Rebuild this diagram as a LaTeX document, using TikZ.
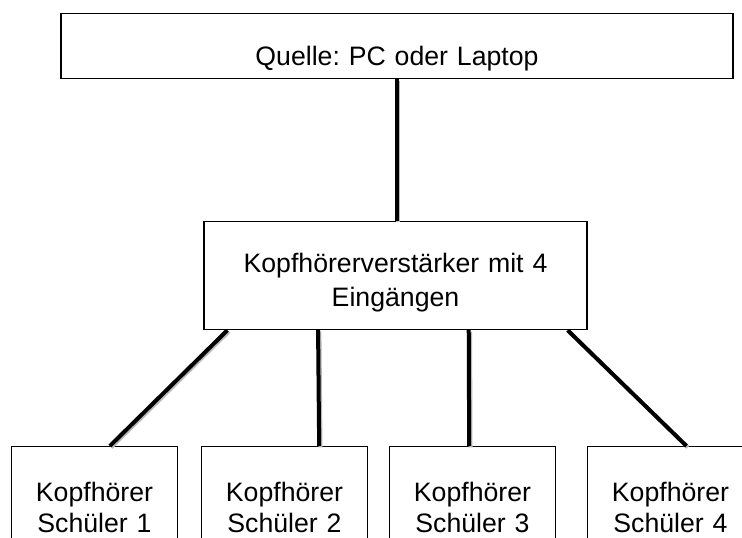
\documentclass[tikz,border=0pt]{standalone}
\usepackage{fontspec}
\setmainfont{Liberation Sans}
\frenchspacing
\tikzstyle{kasten}=[draw, line width=0.9pt, inner xsep=0pt, inner ysep=0pt, anchor=north,
  align=center, font=\fontsize{20}{25.5}\selectfont]
\tikzstyle{platz}=[kasten, text width=124.5pt, text height=41.25pt, text depth=60pt,
  font=\fontsize{20}{23.25}\selectfont]
\newcommand{\kasten}{\node[kasten]}

\begin{document}
\begin{tikzpicture}[x=0.75pt, y=-0.75pt
  ,every edge/.style={draw, line width=3pt,
     preaction={draw, gray!55, line width=3pt, transform canvas={xshift=1pt, yshift=-1pt}}}
]
\useasboundingbox (0,0) rectangle (742,538);
\kasten[text width=504pt, text height=39pt, text depth=9.75pt] (quelle) at (397,13) {Quelle: PC oder Laptop};
\kasten[text width=287.25pt, text height=38.25pt, text depth=42.75pt] (verst) at (395.5,221)
  {Kopfhörerverstärker mit 4\\Eingängen};
\node[platz] (k1) at (94.5,446) {Kopfhörer\\Schüler 1};
\node[platz] (k2) at (284.5,446) {Kopfhörer\\Schüler 2};
\node[platz] (k3) at (472.5,446) {Kopfhörer\\Schüler 3};
\node[platz] (k4) at (670.5,446) {Kopfhörer\\Schüler 4};
\path
(quelle.south) edge (quelle.south |- verst.north)
([xshift=18pt]verst.south west) edge ([xshift=11.5pt]k1.north)
([xshift=86pt]verst.south west) edge ([xshift=26pt]k2.north)
([xshift=199pt]verst.south west) edge ([xshift=-2.5pt]k3.north)
([xshift=-15pt]verst.south east) edge ([xshift=12pt]k4.north)
;
\end{tikzpicture}
\end{document}
